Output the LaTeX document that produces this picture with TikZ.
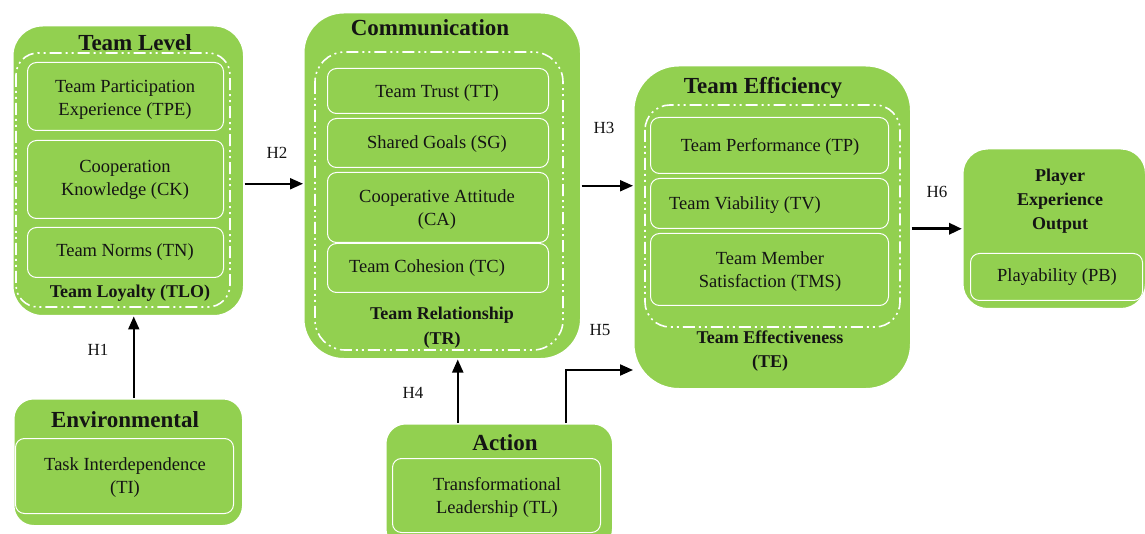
\documentclass[tikz,border=0pt]{standalone}
\usepackage{fontspec}
\setmainfont{Liberation Serif}
\usetikzlibrary{arrows.meta}
\definecolor{boxgreen}{HTML}{92D050}
\definecolor{inktext}{HTML}{141414}
\begin{document}
\begin{tikzpicture}[x=1pt,y=-1pt,
  outer/.style={draw=white, line width=1.5pt, fill=boxgreen, rounded corners=#1, inner sep=0pt, anchor=north west},
  outer/.default=30pt,
  ring/.style={draw=white, line width=1.6pt, dash pattern=on 12pt off 4pt on 2pt off 4pt on 2pt off 4pt, rounded corners=#1},
  ring/.default=25pt,
  itembox/.style={draw=white, line width=1pt, rounded corners=9pt, inner sep=0pt, anchor=north west},
  item/.style={font=\rmfamily\fontsize{18.5}{23}\selectfont, text=inktext, align=center, inner sep=0pt},
  heading/.style={font=\rmfamily\bfseries\fontsize{23}{26}\selectfont, text=inktext, align=center, inner sep=0pt},
  subhead/.style={font=\rmfamily\bfseries\fontsize{18}{24}\selectfont, text=inktext, align=center, inner sep=0pt},
  link/.style={-{Triangle[length=13pt,width=11pt]}, line width=2pt},
  hlab/.style={font=\rmfamily\fontsize{17}{20}\selectfont, text=inktext, inner sep=0pt}]
\useasboundingbox (0,0) rectangle (1145,534);

% ---- Team Level
\node[outer=30pt, minimum width=231pt, minimum height=290pt] (tl) at (12,25) {};
\draw[ring=22pt] (16,53) rectangle (230,307);
\node[itembox, minimum width=196pt, minimum height=68pt] (tpe) at (27,62) {};
\node[itembox, minimum width=196pt, minimum height=78pt] (ck) at (27,140) {};
\node[itembox, minimum width=196pt, minimum height=50pt] (tn) at (27,227) {};
\node[heading] (tlt) at (135,43) {Team Level};
\node[item] (tpet) at (125,100) {Team Participation\\Experience (TPE)};
\node[item] (ckt) at (125,180) {Cooperation\\Knowledge (CK)};
\node[item] (tnt) at (125,252) {Team Norms (TN)};
\node[subhead] (tlo) at (130,293) {Team Loyalty (TLO)};

% ---- Communication
\node[outer=40pt, minimum width=277pt, minimum height=346pt] (comm) at (303,12) {};
\draw[ring=30pt] (315,52) rectangle (563,350);
\node[itembox, minimum width=221pt, minimum height=45pt] (tt) at (327,68) {};
\node[itembox, minimum width=221pt, minimum height=49pt] (sg) at (327,118) {};
\node[itembox, minimum width=221pt, minimum height=70pt] (ca) at (327,172) {};
\node[itembox, minimum width=221pt, minimum height=49pt] (tc) at (327,243) {};
\node[heading] (commt) at (430,28) {Communication};
\node[item] (ttt) at (437,93) {Team Trust (TT)};
\node[item] (sgt) at (437,144) {Shared Goals (SG)};
\node[item] (cat) at (437,210) {Cooperative Attitude\\(CA)};
\node[item] (tct) at (427,268) {Team Cohesion (TC)};
\node[subhead, font=\rmfamily\bfseries\fontsize{18}{25}\selectfont] (trt) at (442,328) {Team Relationship\\(TR)};

% ---- Team Efficiency
\node[outer=45pt, minimum width=277pt, minimum height=323pt] (te) at (633,65) {};
\draw[ring=25pt] (645,105) rectangle (900,327);
\node[itembox, minimum width=238pt, minimum height=56pt] (tp) at (650,117) {};
\node[itembox, minimum width=238pt, minimum height=50pt] (tv) at (650,178) {};
\node[itembox, minimum width=238pt, minimum height=72pt] (tms) at (650,233) {};
\node[heading] (tet) at (763,88) {Team Efficiency};
\node[item] (tpt) at (770,147) {Team Performance (TP)};
\node[item] (tvt) at (745,205) {Team Viability (TV)};
\node[item] (tmst) at (770,272) {Team Member\\Satisfaction (TMS)};
\node[subhead] (tefft) at (770,351) {Team Effectiveness\\(TE)};

% ---- Player Experience Output
\node[outer=25pt, minimum width=183pt, minimum height=160pt] (pl) at (962,148) {};
\node[itembox, minimum width=172pt, minimum height=47pt] (pb) at (970,253) {};
\node[subhead] (plt) at (1060,201) {Player\\Experience\\Output};
\node[item] (pbt) at (1057,277) {Playability (PB)};

% ---- Environmental
\node[outer=20pt, minimum width=229pt, minimum height=127pt] (env) at (13,398) {};
\node[itembox, minimum width=218pt, minimum height=75pt] (ti) at (15,438) {};
\node[heading] (envt) at (125,420) {Environmental};
\node[item] (tit) at (125,478) {Task Interdependence\\(TI)};

% ---- Action
\node[outer=20pt, minimum width=227pt, minimum height=125pt] (act) at (385,423) {};
\node[itembox, minimum width=208pt, minimum height=74pt] (tl2) at (392,458) {};
\node[heading] (actt) at (505,443) {Action};
\node[item] (tlt2) at (497,497) {Transformational\\Leadership (TL)};

% ---- Hypothesis links
\draw[link] ([xshift=5.5pt]env.north) -- ([xshift=5.5pt]env.north |- tl.south);
\draw[link] ([yshift=-13pt]tl.east) -- ([yshift=-13pt]tl.east -| comm.west);
\draw[link] (comm.east) -- (comm.east -| te.west);
\draw[link] ([xshift=-41.5pt]act.north) -- ([xshift=-41.5pt]act.north |- comm.south);
\coordinate (h5k) at ([xshift=66.5pt,yshift=53pt]act.north);
\draw[link] ([xshift=66.5pt]act.north) -- (h5k) -- (h5k -| te.west);
\draw[link, line width=3.5pt] ([yshift=-1.5pt]te.east) -- ([yshift=-1.5pt]te.east -| pl.west);

\node[hlab] (h1) at (98,350) {H1};
\node[hlab] (h2) at (277,153) {H2};
\node[hlab] (h3) at (604,128) {H3};
\node[hlab] (h4) at (413,393) {H4};
\node[hlab] (h5) at (600,330) {H5};
\node[hlab] (h6) at (937,192) {H6};
\end{tikzpicture}
\end{document}
